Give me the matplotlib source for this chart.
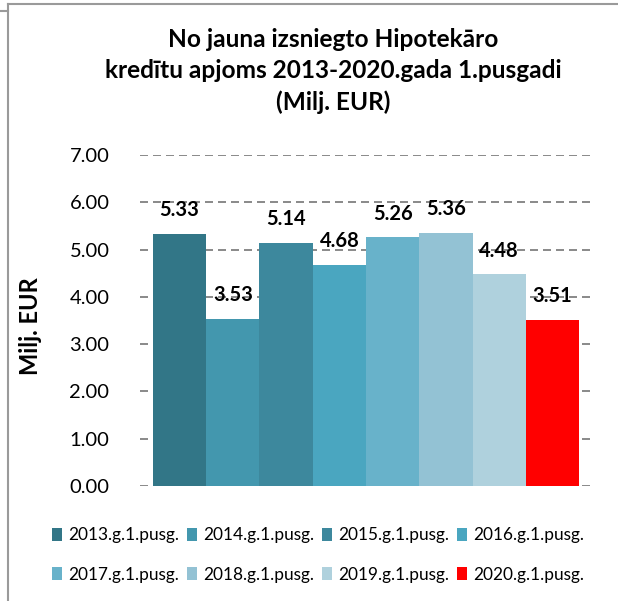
import matplotlib
matplotlib.use("Agg")
import matplotlib.pyplot as plt
from matplotlib.patches import Patch
from matplotlib.lines import Line2D

categories = ["2013.g.1.pusg.", "2014.g.1.pusg.", "2015.g.1.pusg.", "2016.g.1.pusg.",
              "2017.g.1.pusg.", "2018.g.1.pusg.", "2019.g.1.pusg.", "2020.g.1.pusg."]
values = [5.33, 3.53, 5.14, 4.68, 5.26, 5.36, 4.48, 3.51]
colors = ["#327687", "#4397AE", "#3D889D", "#4AA6C0", "#68B2CA", "#93C2D4", "#AFD1DD", "#FF0000"]
yticks = [0, 1, 2, 3, 4, 5, 6, 7]

plt.rcParams['font.family'] = ['Lato', 'DejaVu Sans']

fig = plt.figure(figsize=(6.18, 6.01), dpi=100)
ax = fig.add_axes([140/618, 115/601, (592-140)/618, (486-155)/601])

x = list(range(len(values)))
ax.bar(x, values, width=1.0, color=colors, zorder=3)
for xi, v in zip(x, values):
    ax.annotate(f"{v:.2f}", (xi, v), xytext=(0, 17), textcoords="offset points",
                ha="center", va="center", fontsize=14.5, fontweight="bold", zorder=5)

ax.set_xlim(-0.744, 7.744)
ax.set_ylim(0, 7)
ax.set_yticks(yticks)
ax.set_yticklabels([f"{t:.2f}" for t in yticks], fontsize=14.5)
ax.set_xticks([])
ax.tick_params(axis="y", length=0, pad=22)
for s in ax.spines.values():
    s.set_visible(False)
ax.yaxis.grid(True, color="#8C8C8C", linewidth=1.44, linestyle=(0, (4, 2.5)), zorder=0)
ax.set_axisbelow(True)

ax.set_ylabel("Milj. EUR", fontsize=17, fontweight="bold", labelpad=0)
ax.yaxis.set_label_coords(-(140 - 42) / 452, 0.5 - 6 / 331)

fig.text(333/618, 1 - 71/601, "No jauna izsniegto Hipotekāro\nkredītu apjoms 2013-2020.gada 1.pusgadi\n(Milj. EUR)",
         ha="center", va="center", fontsize=17.6, fontweight="bold", linespacing=1.4)

order = [0, 4, 1, 5, 2, 6, 3, 7]
handles = [Patch(facecolor=colors[i], edgecolor="none") for i in order]
labels = [categories[i] for i in order]
fig.legend(handles, labels, loc="center", bbox_to_anchor=(318/618, 1 - 555/601),
           ncol=4, frameon=False, fontsize=12.4, handlelength=0.6, handleheight=0.75,
           handletextpad=0.35, columnspacing=0.45, labelspacing=1.35, borderaxespad=0)

frame_c = "#9A9A9A"
fig.add_artist(Line2D([8/618, 1], [1 - 4/601, 1 - 4/601], color=frame_c, lw=1.5))
fig.add_artist(Line2D([8/618, 8/618], [0, 1 - 4/601], color=frame_c, lw=1.5))
fig.add_artist(Line2D([0, 8/618], [1 - 11/601, 1 - 11/601], color=frame_c, lw=1.5))

fig.savefig("out.png", dpi=100)
